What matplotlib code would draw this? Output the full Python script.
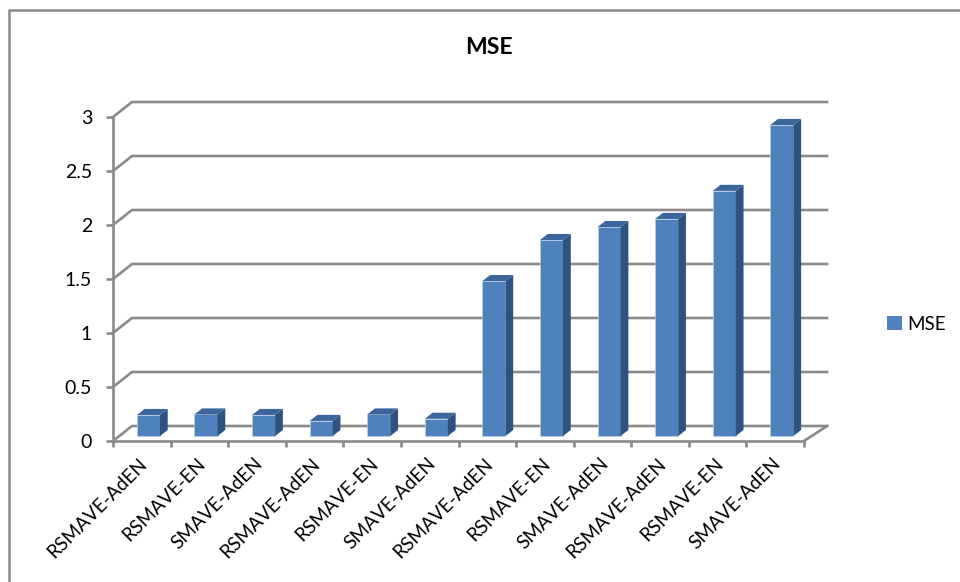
import matplotlib
matplotlib.use("Agg")
import matplotlib.pyplot as plt
from matplotlib.lines import Line2D
from matplotlib.patches import Patch, Polygon

plt.rcParams['font.family'] = ['Lato', 'DejaVu Sans']

# ── Data ─────────────────────────────────────────────────────

methods = [
    "RSMAVE-AdEN", "RSMAVE-EN", "SMAVE-AdEN", "RSMAVE-AdEN",
    "RSMAVE-EN", "SMAVE-AdEN", "RSMAVE-AdEN", "RSMAVE-EN",
    "SMAVE-AdEN", "RSMAVE-AdEN", "RSMAVE-EN", "SMAVE-AdEN",
]
mse = [0.195, 0.20, 0.195, 0.14, 0.20, 0.16, 1.435, 1.815, 1.935, 2.01, 2.27, 2.88]
y_ticks = [0, 0.5, 1, 1.5, 2, 2.5, 3]
y_labels = ["0", "0.5", "1", "1.5", "2", "2.5", "3"]

# ── Style ────────────────────────────────────────────────────

W, H = 960, 582
GREY = "#8A8A8A"
FRONT = "#4F81BD"
SIDE = "#2F5380"
TOP = "#3B659B"

# depth of the fake 3D box, in data units
BACK_DX_L, BACK_DX_R, BACK_DY = 0.33, 0.40, 0.139
BAR_W, BAR_SHIFT, BAR_BASE = 0.40, 0.115, 0.046
BAR_DX, BAR_DY = 0.135, 0.056

fig = plt.figure(figsize=(W / 100, H / 100), dpi=100, facecolor="white")
ax = fig.add_axes([113 / W, (H - 441) / H, 691 / W, 324 / H])
ax.set_xlim(0, len(methods))
ax.set_ylim(0, 3)
ax.patch.set_alpha(0)

for name in ("top", "right"):
    ax.spines[name].set_visible(False)
for name in ("left", "bottom"):
    ax.spines[name].set_color(GREY)
    ax.spines[name].set_linewidth(1.9)

ax.set_yticks(y_ticks, y_labels, fontsize=14, color="black")
ax.set_xticks(range(len(methods) + 1), [""] * (len(methods) + 1))
ax.tick_params(axis="y", length=5, width=1.9, color=GREY, pad=10)
ax.tick_params(axis="x", length=4, width=1.9, color=GREY)

# back wall gridlines, with the slanted run down to the left wall
for v in y_ticks:
    ax.plot([0, BACK_DX_L, len(methods) + BACK_DX_R],
            [v, v + BACK_DY, v + BACK_DY],
            color=GREY, lw=1.9, clip_on=False, zorder=1)
ax.plot([len(methods), len(methods) + BACK_DX_R], [0, BACK_DY],
        color=GREY, lw=1.9, clip_on=False, zorder=1)

# ── Bars ─────────────────────────────────────────────────────

lefts = [i + 0.5 + BAR_SHIFT - BAR_W / 2 for i in range(len(mse))]
ax.bar(lefts, mse, width=BAR_W, bottom=BAR_BASE, align="edge",
       color=FRONT, edgecolor="#B9CDE5", linewidth=0.5, zorder=3)

for x0, v in zip(lefts, mse):
    x1 = x0 + BAR_W
    top = BAR_BASE + v
    ax.add_patch(Polygon(
        [(x1, BAR_BASE), (x1 + BAR_DX, BAR_BASE + BAR_DY),
         (x1 + BAR_DX, top + BAR_DY), (x1, top)],
        facecolor=SIDE, edgecolor="none", zorder=3))
    ax.add_patch(Polygon(
        [(x0, top), (x1, top), (x1 + BAR_DX, top + BAR_DY), (x0 + BAR_DX, top + BAR_DY)],
        facecolor=TOP, edgecolor="none", zorder=3))

# ── Text ─────────────────────────────────────────────────────

for i, label in enumerate(methods):
    ax.annotate(label, xy=(i + 0.5, 0), xytext=(-3, -14),
                textcoords="offset pixels", rotation=45,
                rotation_mode="anchor", ha="right", va="top",
                fontsize=13.7, color="black", annotation_clip=False)

fig.text(489 / W, 1 - 47 / H, "MSE", ha="center", va="center",
         fontsize=16.5, fontweight="bold", color="black")

fig.legend(handles=[Patch(facecolor=FRONT, edgecolor="none", label="MSE")],
           loc="center left", bbox_to_anchor=(887 / W, 1 - 324 / H),
           frameon=False, fontsize=13.5, handlelength=0.8, handleheight=0.8,
           handletextpad=0.3, borderpad=0, borderaxespad=0)

# chart area outline: left and top edges only
fig.add_artist(Line2D([9 / W, 9 / W, 1], [0, 1 - 10 / H, 1 - 10 / H],
                      color=GREY, lw=1.8, transform=fig.transFigure))

fig.savefig("out.png", dpi=100)
